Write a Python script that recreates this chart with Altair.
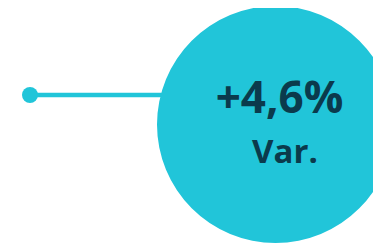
import altair as alt
import pandas as pd

# Layout units (chart-area coordinates)
node_names = ["start", "bubble"]
node_x = [22, 267.5]
node_y = [87, 87]

bubble_x = [267.5]
bubble_y = [116.5]

text_labels = ["+4,6%", "Var."]
text_x = [271.5, 277]
text_y = [105, 155]
text_sizes = [44, 33]

CYAN = "#21C5D9"
DARK = "#0B3A4C"

line_df = pd.DataFrame({"name": node_names, "x": node_x, "y": node_y})
dot_df = line_df.iloc[[0]]
bubble_df = pd.DataFrame({"x": bubble_x, "y": bubble_y})
text_df = pd.DataFrame({"label": text_labels, "x": text_x, "y": text_y, "size": text_sizes})

W, H = 365, 237
xs = alt.Scale(domain=[0, W], nice=False, zero=False)
ys = alt.Scale(domain=[0, H], nice=False, zero=False, reverse=True)
X = lambda: alt.X("x:Q", scale=xs, axis=None)
Y = lambda: alt.Y("y:Q", scale=ys, axis=None)

line = alt.Chart(line_df).mark_line(color=CYAN, strokeWidth=4.5).encode(x=X(), y=Y(), order="x:Q")
dot = alt.Chart(dot_df).mark_circle(color=CYAN, opacity=1, size=256).encode(x=X(), y=Y())
bubble = alt.Chart(bubble_df).mark_circle(color=CYAN, opacity=1, size=56169).encode(x=X(), y=Y())
text = alt.Chart(text_df).mark_text(
    color=DARK, font="Open Sans", fontWeight="bold", align="center", baseline="alphabetic"
).encode(
    x=X(), y=Y(), text="label:N",
    size=alt.Size("size:Q", scale=None, legend=None),
)

chart = alt.layer(line, dot, bubble, text).properties(
    width=W, height=H, padding=0, background="white",
    autosize=alt.AutoSizeParams(type="none"),
).configure_view(stroke=None)

chart.save("out.html", embed_options={"renderer": "svg", "actions": False})
